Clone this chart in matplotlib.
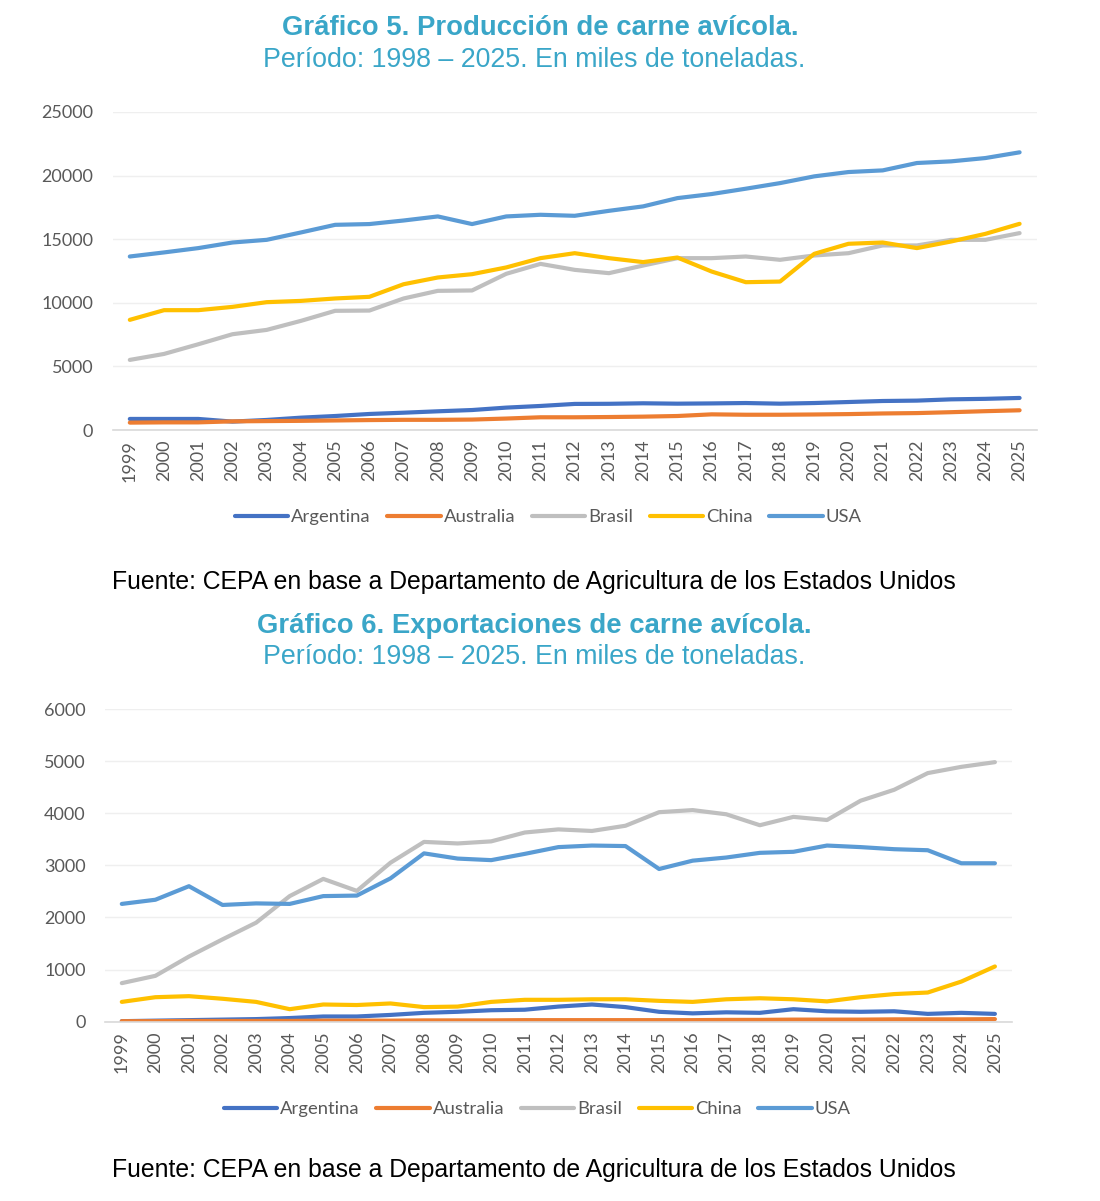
import matplotlib
matplotlib.use("Agg")
import matplotlib.pyplot as plt
import numpy as np

years = [str(y) for y in range(1999, 2026)]
series_names = ["Argentina", "Australia", "Brasil", "China", "USA"]
colors = ["#4472C4", "#ED7D31", "#BFBFBF", "#FFC000", "#5B9BD5"]

# Gráfico 5: producción (miles de toneladas)
prod_argentina = [870, 870, 870, 660, 790, 970, 1100, 1260, 1360, 1470, 1570, 1760, 1890,
                  2050, 2060, 2100, 2070, 2090, 2120, 2070, 2120, 2200, 2280, 2310, 2410, 2450, 2520]
prod_australia = [580, 600, 600, 680, 700, 720, 750, 780, 800, 800, 820, 900, 1000,
                  1000, 1020, 1050, 1100, 1230, 1200, 1200, 1220, 1250, 1300, 1330, 1400, 1480, 1550]
prod_brasil = [5510, 5980, 6740, 7530, 7870, 8580, 9370, 9390, 10340, 10940, 10970, 12280, 13060,
               12590, 12330, 12930, 13510, 13510, 13640, 13380, 13720, 13900, 14510, 14510, 14950, 14950, 15480]
prod_china = [8660, 9420, 9420, 9680, 10050, 10150, 10340, 10470, 11460, 11990, 12250, 12780, 13510,
              13900, 13510, 13200, 13560, 12460, 11620, 11670, 13850, 14640, 14740, 14300, 14820, 15420, 16210]
prod_usa = [13640, 13960, 14300, 14740, 14950, 15530, 16130, 16190, 16470, 16790, 16190, 16790, 16920,
            16840, 17230, 17580, 18230, 18550, 18970, 19410, 19940, 20280, 20410, 20990, 21120, 21380, 21830]

# Gráfico 6: exportaciones (miles de toneladas)
exp_argentina = [10, 20, 30, 40, 50, 70, 100, 100, 130, 170, 190, 220, 230,
                 290, 330, 280, 190, 160, 180, 170, 240, 200, 190, 200, 150, 170, 150]
exp_australia = [10, 10, 15, 15, 15, 15, 20, 20, 20, 25, 25, 25, 30,
                 30, 30, 30, 30, 30, 35, 35, 40, 40, 40, 45, 45, 45, 50]
exp_brasil = [740, 880, 1250, 1580, 1900, 2410, 2740, 2510, 3050, 3450, 3420, 3460, 3630,
              3690, 3660, 3760, 4020, 4060, 3980, 3770, 3930, 3870, 4240, 4450, 4770, 4890, 4980]
exp_china = [380, 470, 490, 440, 380, 240, 330, 320, 350, 280, 290, 380, 420,
             420, 430, 430, 400, 380, 430, 450, 430, 390, 470, 530, 560, 770, 1060]
exp_usa = [2260, 2340, 2600, 2240, 2270, 2260, 2410, 2420, 2750, 3230, 3130, 3100, 3220,
           3350, 3380, 3370, 2930, 3090, 3150, 3240, 3260, 3380, 3350, 3310, 3290, 3040, 3040]

prod = [prod_argentina, prod_australia, prod_brasil, prod_china, prod_usa]
expo = [exp_argentina, exp_australia, exp_brasil, exp_china, exp_usa]

title_color = "#3AA6C8"
tick_color = "#595959"
W, H = 1100, 1201

fig = plt.figure(figsize=(W / 100, H / 100), dpi=100)


def fx(px):
    return px / W


def fy(py):
    return 1 - py / H


def make_chart(left, right, top, bottom, data, ymax, ystep, legend_y, legend_x):
    ax = fig.add_axes([fx(left), fy(bottom), fx(right - left), fy(top) - fy(bottom)])
    x = np.arange(len(years))
    handles = []
    for name, vals, c in zip(series_names, data, colors):
        h, = ax.plot(x, vals, color=c, lw=3.0, solid_capstyle="round",
                     solid_joinstyle="round", label=name)
        handles.append(h)
    ax.set_xlim(-0.5, len(years) - 0.5)
    ax.set_ylim(0, ymax)
    ax.set_yticks(np.arange(0, ymax + 1, ystep))
    ax.set_xticks(x)
    ax.set_xticklabels(years, rotation=90)
    ax.grid(axis="y", color="#EFEFEF", lw=1.0)
    ax.set_axisbelow(True)
    for s in ["top", "right", "left"]:
        ax.spines[s].set_visible(False)
    ax.spines["bottom"].set_color("#D9D9D9")
    ax.spines["bottom"].set_linewidth(1.2)
    ax.tick_params(axis="both", length=0, colors=tick_color, labelsize=13)
    ax.tick_params(axis="y", pad=14)
    ax.tick_params(axis="x", pad=7)
    for lab in ax.get_xticklabels() + ax.get_yticklabels():
        lab.set_fontfamily(["Lato", "DejaVu Sans"])
    leg = fig.legend(handles=handles, loc="center", ncol=5,
                     bbox_to_anchor=(fx(legend_x), fy(legend_y)),
                     frameon=False, handlelength=2.9, handletextpad=0.15,
                     columnspacing=0.9, prop={"family": ["Lato", "DejaVu Sans"], "size": 13.3})
    for t in leg.get_texts():
        t.set_color(tick_color)
    for l in leg.get_lines():
        l.set_linewidth(3.0)
    return ax


make_chart(112.7, 1036.7, 112, 430, prod, 25000, 5000, 517, 548)
make_chart(105, 1011.7, 709, 1021.7, expo, 6000, 1000, 1109, 537)

tfam = ["Liberation Sans", "DejaVu Sans"]
fig.text(fx(540), fy(28), "Gráfico 5. Producción de carne avícola.", ha="center", va="center",
         fontsize=19.8, fontweight="bold", color=title_color, family=tfam)
fig.text(fx(534), fy(60), "Período: 1998 – 2025. En miles de toneladas.", ha="center", va="center",
         fontsize=19.3, color=title_color, family=tfam)
fig.text(fx(112), fy(582), "Fuente: CEPA en base a Departamento de Agricultura de los Estados Unidos",
         ha="left", va="center", fontsize=17.8, color="black", family=tfam)

fig.text(fx(534), fy(626), "Gráfico 6. Exportaciones de carne avícola.", ha="center", va="center",
         fontsize=19.8, fontweight="bold", color=title_color, family=tfam)
fig.text(fx(534), fy(657), "Período: 1998 – 2025. En miles de toneladas.", ha="center", va="center",
         fontsize=19.3, color=title_color, family=tfam)
fig.text(fx(112), fy(1170), "Fuente: CEPA en base a Departamento de Agricultura de los Estados Unidos",
         ha="left", va="center", fontsize=17.8, color="black", family=tfam)

fig.savefig("out.png", dpi=100, facecolor="white")
